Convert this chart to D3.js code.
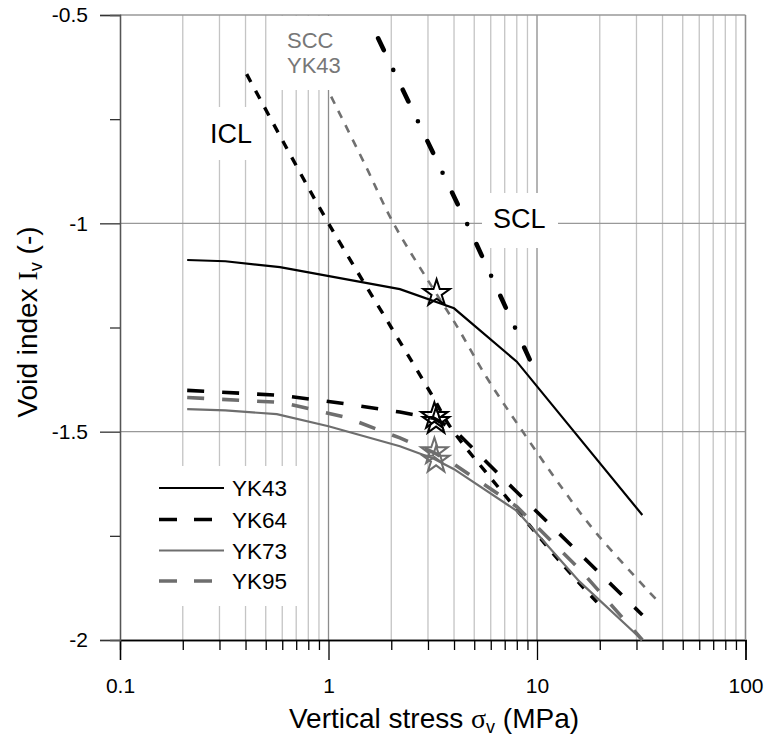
<!DOCTYPE html>
<html>
<head>
<meta charset="utf-8">
<script src="https://cdn.jsdelivr.net/npm/d3@7"></script>
<style>
  body { margin: 0; background: #fff; }
  svg text { font-family: Arial, "Liberation Sans", sans-serif; }
</style>
</head>
<body>
<div id="chart"></div>
<script>
// data (stress in MPa, void index)
const yk43Stress = [0.21, 0.32, 0.585, 2.2, 4, 8, 32];
const yk43Iv     = [-1.088, -1.091, -1.105, -1.158, -1.204, -1.332, -1.70];
const yk64Stress = [0.21, 0.6, 1.2, 2.2, 3.2, 4, 8, 32];
const yk64Iv     = [-1.401, -1.413, -1.433, -1.453, -1.468, -1.495, -1.645, -1.94];
const yk73Stress = [0.21, 0.32, 0.565, 1, 2.2, 3.2, 4, 8, 16, 32];
const yk73Iv     = [-1.446, -1.449, -1.458, -1.487, -1.535, -1.565, -1.59, -1.69, -1.86, -2.0];
const yk95Stress = [0.21, 0.6, 1.2, 2.2, 3.2, 4, 8, 16, 32];
const yk95Iv     = [-1.418, -1.43, -1.465, -1.515, -1.55, -1.578, -1.68, -1.83, -2.0];

const iclStress = [0.405, 0.6, 1, 2, 3.15, 3.83, 6.87, 12.9, 19.6];
const iclIv     = [-0.642, -0.80, -1.0, -1.25, -1.414, -1.488, -1.647, -1.812, -1.912];
const sccStress = [1.03, 1.5, 2.05, 3.3, 4.05, 5.74, 8.28, 13.4, 19.3, 37.5];
const sccIv     = [-0.696, -0.86, -1.0, -1.17, -1.24, -1.37, -1.49, -1.64, -1.744, -1.904];
const sclStress = [1.73, 4.69, 9.25];
const sclIv     = [-0.556, -1.008, -1.328];

const starStress = [3.3, 3.22, 3.28, 3.22, 3.28];
const starIv     = [-1.168, -1.463, -1.475, -1.548, -1.568];
const starGroup  = ["black", "black", "black", "gray", "gray"];

const xTicks = [0.1, 1, 10, 100];
const yTicks = [-0.5, -1, -1.5, -2];
const yMinorTicks = [-0.75, -1.25, -1.75];
const legendNames = ["YK43", "YK64", "YK73", "YK95"];

const W = 768, H = 739;
const plot = {left: 120, right: 745.5, top: 15, bottom: 640};
const gray = "#6e6e6e";

const svg = d3.select("#chart").append("svg")
    .attr("width", W).attr("height", H);

const x = d3.scaleLog().domain([0.1, 100]).range([plot.left, plot.right]);
const y = d3.scaleLinear().domain([-0.5, -2]).range([plot.top, plot.bottom]);

// minor log values 0.2..0.9, 2..9, 20..90
const xMinor = [];
[0.1, 1, 10].forEach(d => { for (let k = 2; k <= 9; k++) xMinor.push(d * k); });

// grid
svg.append("g").selectAll("line").data(xMinor).enter().append("line")
   .attr("x1", d => x(d)).attr("x2", d => x(d))
   .attr("y1", plot.top).attr("y2", plot.bottom)
   .attr("stroke", "#c4c4c4").attr("stroke-width", 1.3);
svg.append("g").selectAll("line").data([1, 10, 100]).enter().append("line")
   .attr("x1", d => x(d)).attr("x2", d => x(d))
   .attr("y1", plot.top).attr("y2", plot.bottom)
   .attr("stroke", "#8c8c8c").attr("stroke-width", 1.3);
svg.append("g").selectAll("line").data([-0.5, -1, -1.5]).enter().append("line")
   .attr("x1", plot.left).attr("x2", plot.right)
   .attr("y1", d => y(d)).attr("y2", d => y(d))
   .attr("stroke", "#999").attr("stroke-width", 1.3);

// white boxes behind labels and legend (they hide the grid)
const boxes = [
  [200, 107, 58, 53],   // ICL
  [272, 16, 83, 74],    // SCC YK43
  [482, 193, 76, 55],   // SCL
  [140, 466, 162, 140]  // legend
];
svg.append("g").selectAll("rect").data(boxes).enter().append("rect")
   .attr("x", d => d[0]).attr("y", d => d[1])
   .attr("width", d => d[2]).attr("height", d => d[3])
   .attr("fill", "#fff");

// axes
const xAxis = svg.append("g").attr("transform", `translate(0,${plot.bottom})`)
   .call(d3.axisBottom(x).tickValues(xTicks).tickSize(20).tickPadding(18)
           .tickFormat(d => String(d)));
const xAxisMinor = svg.append("g").attr("transform", `translate(0,${plot.bottom})`)
   .call(d3.axisBottom(x).tickValues(xMinor).tickSize(10).tickFormat(""));
[xAxis, xAxisMinor].forEach(g => {
  g.select(".domain").attr("stroke", "#000").attr("stroke-width", 1.3);
  g.selectAll(".tick line").attr("stroke", "#000").attr("stroke-width", 1.3);
});
xAxis.selectAll("text").attr("font-size", 21).attr("fill", "#000")
   .attr("font-family", "Arial, 'Liberation Sans', sans-serif");

const yAxis = svg.append("g").attr("transform", `translate(${plot.left},0)`)
   .call(d3.axisLeft(y).tickValues(yTicks).tickSize(20).tickPadding(12)
           .tickFormat(d => String(d)));
const yAxisMinor = svg.append("g").attr("transform", `translate(${plot.left},0)`)
   .call(d3.axisLeft(y).tickValues(yMinorTicks).tickSize(10).tickFormat(""));
[yAxis, yAxisMinor].forEach(g => {
  g.select(".domain").attr("stroke", "#555").attr("stroke-width", 1.3);
  g.selectAll(".tick line").attr("stroke", "#333").attr("stroke-width", 1.3);
});
yAxis.selectAll("text").attr("font-size", 21).attr("fill", "#000")
   .attr("font-family", "Arial, 'Liberation Sans', sans-serif");

// right border
svg.append("line").attr("x1", plot.right).attr("x2", plot.right)
   .attr("y1", plot.top).attr("y2", plot.bottom)
   .attr("stroke", "#8c8c8c").attr("stroke-width", 1.3);

// curves
const zip = (a, b) => a.map((v, i) => [v, b[i]]);
const line = d3.line().x(d => x(d[0])).y(d => y(d[1]));
const smooth = d3.line().x(d => x(d[0])).y(d => y(d[1])).curve(d3.curveCatmullRom);

const series = [
  {name: "YK43", data: zip(yk43Stress, yk43Iv), color: "#000", width: 2.2, dash: null},
  {name: "YK64", data: zip(yk64Stress, yk64Iv), color: "#000", width: 3.6, dash: "17 18"},
  {name: "YK73", data: zip(yk73Stress, yk73Iv), color: gray, width: 2.2, dash: null},
  {name: "YK95", data: zip(yk95Stress, yk95Iv), color: gray, width: 3.6, dash: "17 18"}
];

// reference lines
svg.append("path").datum(zip(sccStress, sccIv))
   .attr("d", smooth).attr("fill", "none")
   .attr("stroke", "#707070").attr("stroke-width", 2.6).attr("stroke-dasharray", "8 8");
svg.append("path").datum(zip(iclStress, iclIv))
   .attr("d", smooth).attr("fill", "none")
   .attr("stroke", "#000").attr("stroke-width", 3.4).attr("stroke-dasharray", "9 10");
svg.append("path").datum(zip(sclStress, sclIv))
   .attr("d", line).attr("fill", "none")
   .attr("stroke", "#000").attr("stroke-width", 4.6)
   .attr("stroke-linecap", "round").attr("stroke-dasharray", "13 22 0 22");

series.slice().reverse().forEach(s => {
  svg.append("path").datum(s.data)
     .attr("d", line).attr("fill", "none")
     .attr("stroke", s.color).attr("stroke-width", s.width)
     .attr("stroke-dasharray", s.dash);
});

// stars
const star = d3.symbol().type(d3.symbolStar).size(220);
svg.append("g").selectAll("path").data(starStress).enter().append("path")
   .attr("d", star)
   .attr("transform", (d, i) => `translate(${x(d)},${y(starIv[i])})`)
   .attr("fill", "none")
   .attr("stroke", (d, i) => starGroup[i] === "black" ? "#000" : gray)
   .attr("stroke-width", 2);

// text labels
svg.append("text").attr("x", 210).attr("y", 143).attr("font-size", 27).text("ICL");
svg.append("text").attr("x", 493).attr("y", 228).attr("font-size", 27).text("SCL");
svg.append("text").attr("x", 287).attr("y", 48).attr("font-size", 22).attr("fill", "#777").text("SCC");
svg.append("text").attr("x", 287).attr("y", 73).attr("font-size", 22).attr("fill", "#777").text("YK43");

// legend
const legendY = [488, 519.5, 550.5, 581];
const legend = svg.append("g").selectAll("g").data(series).enter().append("g")
   .attr("transform", (d, i) => `translate(0,${legendY[i]})`);
legend.append("line").attr("x1", 159).attr("x2", 224)
   .attr("stroke", d => d.color).attr("stroke-width", d => d.width)
   .attr("stroke-dasharray", d => d.dash ? "18 17" : null);
legend.append("text").attr("x", 232).attr("dy", "0.36em")
   .attr("font-size", 22.5).text((d, i) => legendNames[i]);

// axis titles
svg.append("text").attr("x", 434).attr("y", 728).attr("text-anchor", "middle")
   .attr("font-size", 28)
   .call(t => {
     t.append("tspan").text("Vertical stress ");
     t.append("tspan").attr("font-family", "'Liberation Serif', serif").text("σ");
     t.append("tspan").attr("font-size", 18).attr("dy", 5).text("v");
     t.append("tspan").attr("dy", -5).text(" (MPa)");
   });
svg.append("text").attr("transform", "translate(37,322) rotate(-90)")
   .attr("text-anchor", "middle").attr("font-size", 28)
   .call(t => {
     t.append("tspan").text("Void index ");
     t.append("tspan").attr("font-family", "'Liberation Serif', serif").text("I");
     t.append("tspan").attr("font-size", 18).attr("dy", 5).text("v");
     t.append("tspan").attr("dy", -5).text(" (-)");
   });
</script>
</body>
</html>
